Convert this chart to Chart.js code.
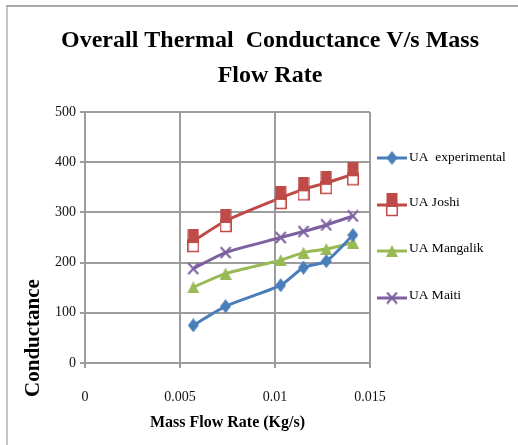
<!DOCTYPE html>
<html>
<head>
<meta charset="utf-8">
<script src="https://cdn.jsdelivr.net/npm/chart.js@4/dist/chart.umd.min.js"></script>
<style>
  html, body { margin: 0; padding: 0; background: #ffffff; }
  #wrap { position: relative; width: 518px; height: 445px; }
</style>
</head>
<body>
<div id="wrap"><canvas id="c" width="518" height="445"></canvas></div>
<script>
// ---- data ----
const massFlow       = [0.0057, 0.0074, 0.0103, 0.0115, 0.0127, 0.0141];
const uaExperimental = [75, 113, 155, 190, 203, 255];
const uaJoshi        = [243, 283, 329, 346, 359, 376];
const uaMangalik     = [151, 178, 205, 220, 227, 240];
const uaMaiti        = [188, 220, 250, 262, 275, 293];
const seriesNames    = ['UA  experimental', 'UA Joshi', 'UA Mangalik', 'UA Maiti'];
const xTicks         = [0, 0.005, 0.01, 0.015];
const xTickLabels    = ['0', '0.005', '0.01', '0.015'];
const yTicks         = [0, 100, 200, 300, 400, 500];
const titleLines     = ['Overall Thermal  Conductance V/s Mass', 'Flow Rate'];
const xTitle         = 'Mass Flow Rate (Kg/s)';
const yTitle         = 'Conductance';

// ---- marker images ----
function mk(w, h, draw) {
  const c = document.createElement('canvas');
  c.width = w; c.height = h;
  draw(c.getContext('2d'));
  return c;
}
const cBlue = '#4a7ebb', cRed = '#be4b48', cGreen = '#98b954', cPurple = '#7d60a0';
const diamond = mk(11, 14, g => {
  g.fillStyle = cBlue; g.beginPath();
  g.moveTo(5.5, 0); g.lineTo(11, 7); g.lineTo(5.5, 14); g.lineTo(0, 7); g.closePath(); g.fill();
});
const squares = mk(12, 24, g => {
  g.fillStyle = '#ffffff'; g.strokeStyle = cRed; g.lineWidth = 1.5;
  g.fillRect(0.75, 11, 10.5, 11.5); g.strokeRect(0.75, 11, 10.5, 11.5);
  g.fillStyle = cRed; g.fillRect(0.5, 0, 11, 14);
});
const triangle = mk(12, 12, g => {
  g.fillStyle = cGreen; g.beginPath();
  g.moveTo(6, 0); g.lineTo(12, 12); g.lineTo(0, 12); g.closePath(); g.fill();
});
const cross = mk(12, 13, g => {
  g.strokeStyle = cPurple; g.lineWidth = 2; g.beginPath();
  g.moveTo(1, 1); g.lineTo(11, 12); g.moveTo(11, 1); g.lineTo(1, 12); g.stroke();
});

function pts(ys) { return massFlow.map((x, i) => ({ x: x, y: ys[i] })); }
function ds(label, ys, color, marker) {
  return {
    label: label, data: pts(ys), borderColor: color, backgroundColor: color,
    borderWidth: 3, tension: 0.25, pointStyle: marker, pointRadius: 6, fill: false
  };
}

const gridGray = '#9c9c9c';

const framePlugin = {
  id: 'frame',
  beforeDraw(chart) {
    const g = chart.ctx;
    g.save();
    g.fillStyle = '#c6c6c6'; g.fillRect(6, 5, 2, 440);
    g.fillStyle = '#a9a9a9'; g.fillRect(6, 5, 512, 2);
    g.restore();
  }
};

const extrasPlugin = {
  id: 'extras',
  afterDraw(chart) {
    const g = chart.ctx, a = chart.chartArea;
    g.save();
    // y-axis title
    g.translate(34, a.bottom - 25);
    g.rotate(-Math.PI / 2);
    g.font = 'bold 21px "Liberation Serif"';
    g.fillStyle = '#000000';
    g.textAlign = 'center'; g.textBaseline = 'middle';
    g.fillText(yTitle, 0, 0);
    g.restore();

    // legend
    g.save();
    const x0 = a.right + 7;
    const y0 = a.top + 46;
    const step = 46.7;
    chart.data.datasets.forEach((d, i) => {
      const y = Math.round(y0 + i * step);
      g.strokeStyle = d.borderColor; g.lineWidth = 3;
      g.beginPath(); g.moveTo(x0, y); g.lineTo(x0 + 30, y); g.stroke();
      const m = d.pointStyle;
      g.drawImage(m, x0 + 15 - m.width / 2, y - m.height / 2);
      g.font = '13.5px "Liberation Serif"';
      g.fillStyle = '#000000';
      g.textAlign = 'left'; g.textBaseline = 'middle';
      g.fillText(d.label, x0 + 32, y - (i === 0 ? 1 : 3));
    });
    g.restore();
  }
};

new Chart(document.getElementById('c'), {
  type: 'line',
  data: {
    datasets: [
      ds(seriesNames[0], uaExperimental, cBlue, diamond),
      ds(seriesNames[1], uaJoshi, cRed, squares),
      ds(seriesNames[2], uaMangalik, cGreen, triangle),
      ds(seriesNames[3], uaMaiti, cPurple, cross)
    ]
  },
  options: {
    responsive: false,
    animation: false,
    layout: { padding: { left: 22, right: 0, top: 0, bottom: 0 } },
    plugins: {
      legend: { display: false },
      tooltip: { enabled: false },
      title: {
        display: true,
        text: titleLines,
        color: '#000000',
        font: { family: '"Liberation Serif"', size: 24, weight: 'bold', lineHeight: 1.46 },
        padding: { top: 23, bottom: 19 }
      }
    },
    scales: {
      x: {
        type: 'linear', position: 'bottom', min: 0, max: 0.015,
        afterBuildTicks(s) { s.ticks = xTicks.map(v => ({ value: v })); },
        afterFit(s) { s.height = 82; },
        ticks: {
          padding: 21, color: '#111111',
          font: { family: '"Liberation Serif"', size: 14 },
          callback: (v, i) => xTickLabels[i]
        },
        grid: { color: gridGray, lineWidth: 2, tickLength: 5 },
        border: { color: gridGray, width: 2 },
        title: {
          display: true, text: xTitle, color: '#000000',
          font: { family: '"Liberation Serif"', size: 16, weight: 'bold' },
          padding: { top: 0, bottom: 13 }
        }
      },
      y: {
        type: 'linear', position: 'left', min: 0, max: 500,
        afterBuildTicks(s) { s.ticks = yTicks.map(v => ({ value: v })); },
        afterFit(s) { s.width = 63; },
        ticks: {
          padding: 4, color: '#111111',
          font: { family: '"Liberation Serif"', size: 14 }
        },
        grid: { color: gridGray, lineWidth: 2, tickLength: 5 },
        border: { color: gridGray, width: 2 }
      },
      pad: {
        type: 'linear', position: 'right', display: true,
        grid: { display: false, drawTicks: false },
        ticks: { display: false },
        border: { display: false },
        afterFit(s) { s.width = 148; }
      }
    }
  },
  plugins: [framePlugin, extrasPlugin]
});
</script>
</body>
</html>
